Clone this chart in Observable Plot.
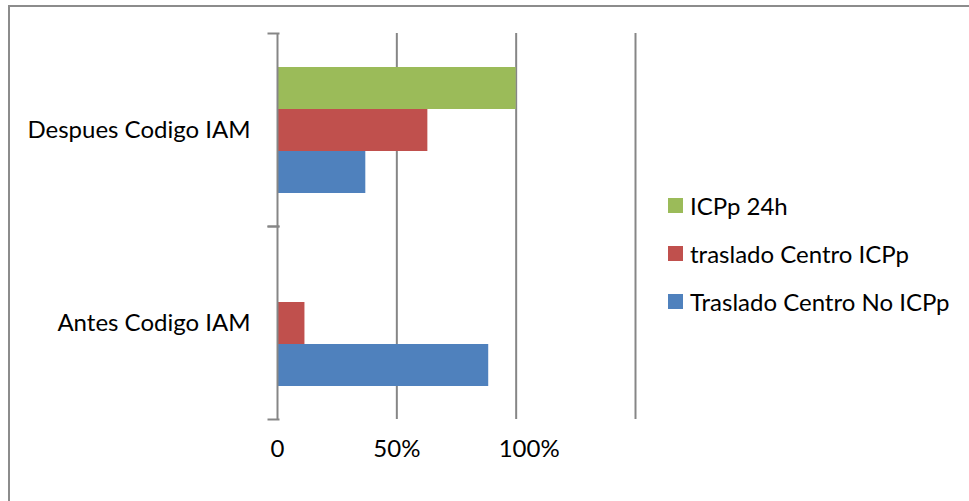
<!DOCTYPE html>
<html>
<head>
<meta charset="utf-8">
<script src="https://cdn.jsdelivr.net/npm/d3@7"></script>
<script src="https://cdn.jsdelivr.net/npm/@observablehq/plot@0.6"></script>
<style>
  html, body { margin: 0; padding: 0; background: #fff; }
  #wrap { position: relative; width: 969px; height: 501px; overflow: hidden; font-family: Lato, "Open Sans", sans-serif; }
  #border { position: absolute; left: 8px; top: 5px; width: 1100px; height: 700px; border-left: 2px solid #8c8c8c; border-top: 2px solid #8c8c8c; }
  #chart { position: absolute; left: 0; top: 0; }
  #legend { position: absolute; left: 668px; top: 181px; }
  .row { display: flex; align-items: center; height: 48px; font-size: 24px; color: #000; }
  .sw { width: 15px; height: 15px; margin-right: 7px; }
</style>
</head>
<body>
<div id="wrap">
  <div id="border"></div>
  <div id="chart"></div>
  <div id="legend"></div>
</div>
<script>
const categories = ["Despues Codigo IAM", "Antes Codigo IAM"];
const series = ["ICPp 24h", "traslado Centro ICPp", "Traslado Centro No ICPp"];
const colors = ["#9BBB59", "#C0504D", "#4F81BD"];
const despuesValues = [1.0, 0.63, 0.37];
const antesValues = [0, 0.115, 0.885];
const xTickValues = [0, 0.5];
const xTickLabels = ["0", "50%"];
const xLastTick = [1];
const xLastLabel = ["100%"];
const gridValues = [0.5, 1, 1.5];

const data = [];
series.forEach((s, i) => {
  data.push({category: categories[0], series: s, value: despuesValues[i]});
  data.push({category: categories[1], series: s, value: antesValues[i]});
});

const grey = "#868686";

const chart = Plot.plot({
  width: 969,
  height: 501,
  marginTop: 33,
  marginBottom: 82,
  marginLeft: 277,
  marginRight: 334,
  style: {fontFamily: "Lato, 'Open Sans', sans-serif", background: "transparent", color: "#000"},
  x: {domain: [0, 1.5], axis: null},
  y: {type: "band", domain: series, paddingInner: 0, paddingOuter: 0.75, axis: null},
  fy: {domain: categories, padding: 0},
  color: {domain: series, range: colors},
  marks: [
    Plot.gridX(gridValues, {stroke: grey, strokeOpacity: 1, strokeWidth: 2}),
    Plot.barX(data, {x: "value", y: "series", fy: "category", fill: "series"}),
    Plot.ruleX([0], {stroke: grey, strokeWidth: 2}),
    Plot.frame({anchor: "top", stroke: grey, strokeWidth: 2, insetLeft: -9, insetRight: 357}),
    Plot.frame({anchor: "bottom", stroke: grey, strokeWidth: 2, insetLeft: -9, insetRight: 357}),
    Plot.axisFy({anchor: "left", tickSize: 0, tickPadding: 27, fontSize: 24, label: null, fill: "#000"}),
    Plot.axisX(xTickValues, {anchor: "bottom", tickSize: 0, tickPadding: 20, fontSize: 24, label: null,
      tickFormat: (d, i) => xTickLabels[xTickValues.indexOf(d)], fill: "#000"}),
    Plot.axisX(xLastTick, {anchor: "bottom", tickSize: 0, tickPadding: 20, fontSize: 24, label: null, dx: 13,
      tickFormat: d => xLastLabel[xLastTick.indexOf(d)], fill: "#000"})
  ]
});
document.getElementById("chart").appendChild(chart);

const legend = document.getElementById("legend");
series.forEach((s, i) => {
  const row = document.createElement("div");
  row.className = "row";
  const sw = document.createElement("div");
  sw.className = "sw";
  sw.style.background = colors[i];
  const t = document.createElement("span");
  t.textContent = s;
  row.appendChild(sw);
  row.appendChild(t);
  legend.appendChild(row);
});
</script>
</body>
</html>
